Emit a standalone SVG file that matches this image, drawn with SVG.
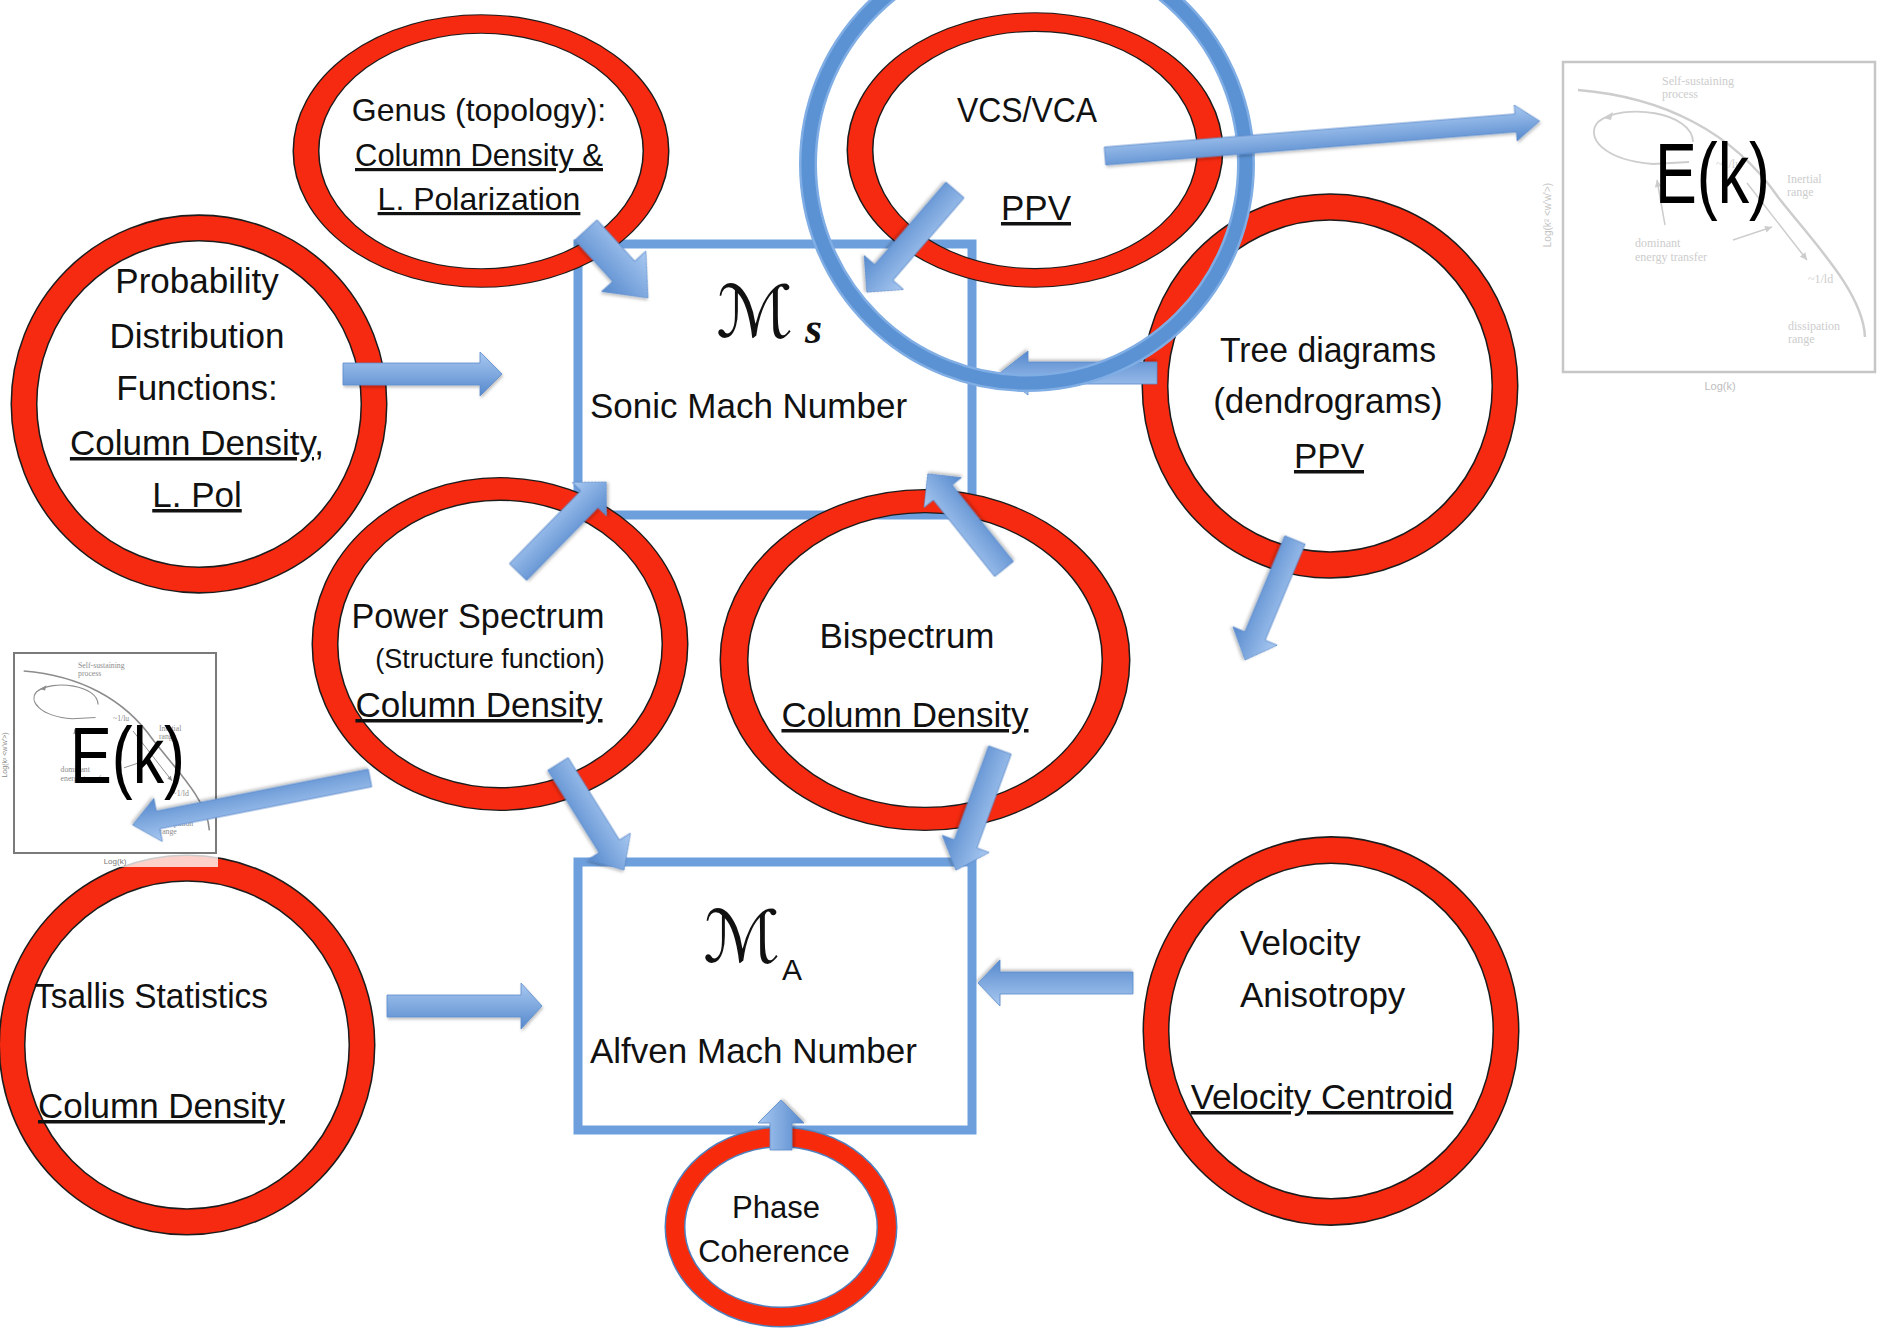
<svg xmlns="http://www.w3.org/2000/svg" width="1878" height="1331" viewBox="0 0 1878 1331">
<defs>
<linearGradient id="ag" x1="0" y1="0" x2="0" y2="1">
<stop offset="0" stop-color="#a9c9f1"/>
<stop offset="1" stop-color="#5689cd"/>
</linearGradient>
<filter id="sh" x="-10%" y="-20%" width="130%" height="150%">
<feDropShadow dx="1" dy="2" stdDeviation="1.5" flood-color="#000" flood-opacity="0.25"/>
</filter>
<g id="graph" fill="none" stroke="currentColor">
<path d="M15,28 C100,35 170,70 215,135 C250,180 300,230 302,275" stroke-width="2.5"/>
<path d="M130,80 C130,50 60,40 35,60 C22,75 40,98 90,102 L126,100" stroke-width="1.8"/>
<path d="M184,121 L244,198 M102,163 L94,118 M170,178 L209,165" stroke-width="1.5"/>
<g stroke="none" fill="currentColor">
<polygon points="244,198 242.5,190.3 236.9,194.7"/>
<polygon points="94,118 98.7,124.3 91.8,125.5"/>
<polygon points="209,165 203.5,170.5 201.3,163.9"/>
<polygon points="40,56 50,50 48,58"/>
</g>
<g stroke="none" fill="currentColor" font-family="'Liberation Serif', serif" font-size="12">
<text x="99" y="23">Self-sustaining</text>
<text x="99" y="36">process</text>
<text x="153" y="106">~1/lu</text>
<text x="224" y="121">Inertial</text>
<text x="224" y="134">range</text>
<text x="72" y="185">dominant</text>
<text x="72" y="199">energy transfer</text>
<text x="245" y="221">~1/ld</text>
<text x="225" y="268">dissipation</text>
<text x="225" y="281">range</text>
</g>
</g>
</defs>
<style>
.t{font-family:"Liberation Sans",Arial,sans-serif;font-size:35px;fill:#111;text-anchor:middle}
.s{text-anchor:start}
.u{text-decoration:underline}
.ro{fill:none;stroke:#1c1c1c;stroke-width:27}
.r{fill:none;stroke:#f52a10;stroke-width:24}
.box{fill:none;stroke:#6d9fdd;stroke-width:9}
.arr{fill:url(#ag);stroke:#5a8ccc;stroke-width:0.8;filter:url(#sh)}
.ek{font-family:"Liberation Sans",Arial,sans-serif;fill:#000}
.m{font-family:"DejaVu Serif","DejaVu Sans",serif;font-style:italic;fill:#111}
</style>
<rect width="1878" height="1331" fill="#fff"/>

<g id="n-sonic">
<rect class="box" x="578" y="244" width="394" height="271"/>
<text class="m" x="716" y="337" font-size="72">ℳ</text>
<text x="805" y="343" font-family="'Liberation Serif',serif" font-style="italic" font-weight="bold" font-size="44" fill="#111">s</text>
<text class="t s" x="590" y="418">Sonic Mach Number</text>
</g>

<g id="n-alfven">
<rect class="box" x="578" y="862" width="394" height="268"/>
<text class="m" x="703" y="962" font-size="72">ℳ</text>
<text x="782" y="980" font-family="'Liberation Sans',sans-serif" font-size="30" fill="#111">A</text>
<text class="t s" x="590" y="1063">Alfven Mach Number</text>
</g>

<g id="n-genus">
<g transform="translate(481,151) scale(1,0.726)"><circle r="175" class="ro"/><circle r="175" class="r"/></g>
<text class="t" x="479" y="121" style="font-size:32px">Genus (topology):</text>
<text class="t u" x="479" y="166" style="font-size:32px" textLength="248" lengthAdjust="spacingAndGlyphs">Column Density &amp;</text>
<text class="t u" x="479" y="210" style="font-size:32px">L. Polarization</text>
</g>

<g id="n-pdf">
<g transform="translate(199,404) scale(1,1.006)"><circle r="175" class="ro"/><circle r="175" class="r"/></g>
<text class="t" x="197" y="293">Probability</text>
<text class="t" x="197" y="348">Distribution</text>
<text class="t" x="197" y="400">Functions:</text>
<text class="t u" x="197" y="455">Column Density,</text>
<text class="t u" x="197" y="507">L. Pol</text>
</g>

<g id="n-vcs">
<g transform="translate(1035,150) scale(1,0.731)"><circle r="175" class="ro"/><circle r="175" class="r"/></g>
<text class="t" x="1027" y="122" textLength="140" lengthAdjust="spacingAndGlyphs">VCS/VCA</text>
<text class="t u" x="1036" y="220">PPV</text>
</g>

<g id="n-tree">
<g transform="translate(1330,386) scale(1,1.023)"><circle r="175" class="ro"/><circle r="175" class="r"/></g>
<text class="t" x="1328" y="362" textLength="216" lengthAdjust="spacingAndGlyphs">Tree diagrams</text>
<text class="t" x="1328" y="413">(dendrograms)</text>
<text class="t u" x="1329" y="468">PPV</text>
</g>

<g id="n-power">
<g transform="translate(500,644) scale(1,0.886)"><circle r="175" class="ro"/><circle r="175" class="r"/></g>
<text class="t" x="478" y="628" textLength="253" lengthAdjust="spacingAndGlyphs">Power Spectrum</text>
<text class="t" x="490" y="668" style="font-size:27px">(Structure function)</text>
<text class="t u" x="479" y="717">Column Density</text>
</g>

<g id="n-bispectrum">
<g transform="translate(925,660) scale(1,0.832)"><circle r="191" class="ro" style="stroke-width:29"/><circle r="191" class="r" style="stroke-width:26"/></g>
<text class="t" x="907" y="648">Bispectrum</text>
<text class="t u" x="905" y="727">Column Density</text>
</g>

<g id="n-tsallis">
<g transform="translate(187,1045) scale(1,1.011)"><circle r="175" class="ro"/><circle r="175" class="r"/></g>
<text class="t s" x="34" y="1008" textLength="234" lengthAdjust="spacingAndGlyphs">Tsallis Statistics</text>
<text class="t s u" x="38" y="1118">Column Density</text>
</g>

<g id="n-velocity">
<g transform="translate(1331,1031) scale(1,1.034)"><circle r="175" class="ro"/><circle r="175" class="r"/></g>
<text class="t s" x="1240" y="955">Velocity</text>
<text class="t s" x="1240" y="1007">Anisotropy</text>
<text class="t u" x="1322" y="1109">Velocity Centroid</text>
</g>

<g id="n-phase">
<ellipse cx="781" cy="1227" rx="106" ry="90" fill="none" stroke="#4f81bd" stroke-width="21"/>
<ellipse cx="781" cy="1227" rx="106" ry="90" fill="none" stroke="#f82a0c" stroke-width="18"/>
<text class="t" x="776" y="1218" style="font-size:31px">Phase</text>
<text class="t" x="774" y="1262" style="font-size:31px">Coherence</text>
</g>

<g id="n-ek-left">
<rect x="12" y="645" width="206" height="222" fill="#fff" opacity="0.78"/>
<use href="#graph" transform="translate(14,653) scale(0.647,0.645)" color="#8c8c8c"/>
<rect x="14" y="653" width="202" height="200" fill="none" stroke="#7a7a7a" stroke-width="2"/>
<text x="115" y="864" font-family="'Liberation Sans',sans-serif" font-size="8" fill="#777" text-anchor="middle">Log(k)</text>
<text transform="translate(7,755) rotate(-90)" font-family="'Liberation Sans',sans-serif" font-size="7" fill="#888" text-anchor="middle">Log(k² &lt;w'w'&gt;)</text>
<text class="ek" x="70" y="783" font-size="80" textLength="115" lengthAdjust="spacingAndGlyphs">E(k)</text>
</g>

<g id="n-ek-right">
<rect x="1563" y="62" width="312" height="310" fill="#fff"/>
<use href="#graph" transform="translate(1563,62)" color="#cdcdcd"/>
<rect x="1563" y="62" width="312" height="310" fill="none" stroke="#c6c6c6" stroke-width="2.5"/>
<text x="1720" y="390" font-family="'Liberation Sans',sans-serif" font-size="11" fill="#bdbdbd" text-anchor="middle">Log(k)</text>
<text transform="translate(1551,215) rotate(-90)" font-family="'Liberation Sans',sans-serif" font-size="10" fill="#c4c4c4" text-anchor="middle">Log(k² &lt;w'w'&gt;)</text>
<text class="ek" x="1655" y="203" font-size="86" textLength="115" lengthAdjust="spacingAndGlyphs">E(k)</text>
</g>

<g id="connectors">
<polygon class="arr" transform="translate(1157,373) rotate(180)" points="0,-11 129,-11 129,-22 157,0 129,22 129,11 0,11"/>
<circle id="highlight-circle" cx="1027" cy="164" r="219" fill="none" stroke="#7fadE4" stroke-width="18"/>
<circle cx="1027" cy="164" r="219" fill="none" stroke="#5b92d4" stroke-width="13"/>
<polygon class="arr" transform="translate(343,374)" points="0,-11 137,-11 137,-22 159,0 137,22 137,11 0,11"/>
<polygon class="arr" transform="translate(586,230) rotate(47.6)" points="0,-15 56,-15 56,-30 92,0 56,30 56,15 0,15"/>
<polygon class="arr" transform="translate(955,190) rotate(130.8)" points="0,-12 109,-12 109,-26 135,0 109,26 109,12 0,12"/>
<polygon class="arr" transform="translate(518,572) rotate(-45.6)" points="0,-12 102,-12 102,-24 126,0 102,24 102,12 0,12"/>
<polygon class="arr" transform="translate(1004,569) rotate(-128.7)" points="0,-12 98,-12 98,-24 122,0 98,24 98,12 0,12"/>
<polygon class="arr" transform="translate(558,764) rotate(58.1)" points="0,-12 97,-12 97,-25 125,0 97,25 97,12 0,12"/>
<polygon class="arr" transform="translate(1000,750) rotate(110.1)" points="0,-12 100,-12 100,-25 128,0 100,25 100,12 0,12"/>
<polygon class="arr" transform="translate(370,778) rotate(168.8)" points="0,-9 216,-9 216,-22 242,0 216,22 216,9 0,9"/>
<polygon class="arr" transform="translate(1295,540) rotate(112.6)" points="0,-11 104,-11 104,-24 130,0 104,24 104,11 0,11"/>
<polygon class="arr" transform="translate(1105,156) rotate(-4.6)" points="0,-9 412,-9 412,-18 436,0 412,18 412,9 0,9"/>
<polygon class="arr" transform="translate(387,1006)" points="0,-11 134,-11 134,-23 155,0 134,23 134,11 0,11"/>
<polygon class="arr" transform="translate(1133,983) rotate(180)" points="0,-11 133,-11 133,-23 155,0 133,23 133,11 0,11"/>
<polygon class="arr" transform="translate(781,1150) rotate(-90)" points="0,-11 27,-11 27,-23 50,0 27,23 27,11 0,11"/>
</g>
</svg>
